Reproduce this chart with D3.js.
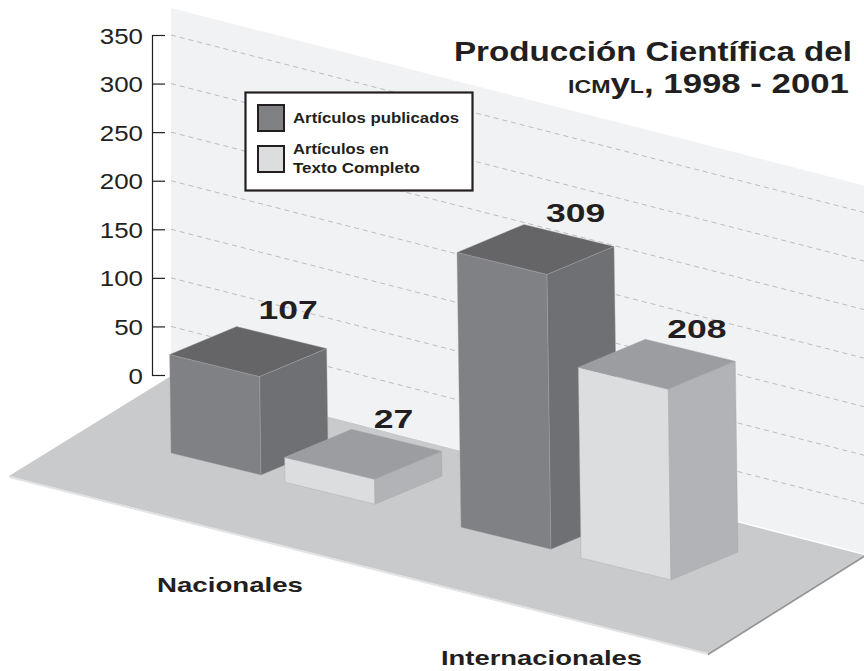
<!DOCTYPE html>
<html>
<head>
<meta charset="utf-8">
<title>Producción Científica del ICMyL</title>
<script src="https://cdn.jsdelivr.net/npm/d3@7"></script>
<style>
  body { margin: 0; background: #fff; }
  text { font-family: "Liberation Sans", Arial, sans-serif; fill: #231f20; }
</style>
</head>
<body>
<div id="vis"></div>
<script>
// Data
const categories = ["Nacionales", "Internacionales"];
const seriesNames = ["Artículos publicados", "Artículos en Texto Completo"];
const publicados = [107, 309];
const textoCompleto = [27, 208];
const yTicks = [0, 50, 100, 150, 200, 250, 300, 350];

// Dimensions
const width = 864;
const height = 671;
const slope = 0.256;          // receding slope of wall and floor
const wallLeft = 171;
const depth = { x: 67, y: -28 };   // front corner -> right corner
const face = { x: 90, y: 22 };     // left corner -> front corner

const svg = d3.select("#vis")
  .append("svg")
  .attr("width", width)
  .attr("height", height)
  .style("display", "block");

// Scales
const yScale = d3.scaleLinear().domain([0, 350]).range([375, 35]);

// Bar height is foreshortened a little towards the top
const barHeight = d3.scaleLinear().domain([0, 200, 350]).range([0, 184, 309]);
const lean = d3.scaleLinear().domain([0, 309]).range([0, 4]);

const x0 = d3.scaleBand().domain(categories).range([wallLeft, wallLeft + 580]);
const seriesStep = d3.scaleOrdinal().domain(categories).range([114, 120]);
const baseY = x => 453 + (x - wallLeft) * slope;

const polygon = pts => pts.map(p => p.join(",")).join(" ");

// Stretch text horizontally, the original face is an extended grotesque
function stretch(sel, k) {
  sel.each(function() {
    this.setAttribute("lengthAdjust", "spacingAndGlyphs");
    this.setAttribute("textLength", this.getComputedTextLength() * k);
  });
  return sel;
}

// Wall
svg.append("polygon")
  .attr("points", polygon([
    [wallLeft, 8],
    [width, 8 + (width - wallLeft) * slope],
    [width, 376 + (width - wallLeft) * slope],
    [wallLeft, 376]
  ]))
  .attr("fill", "#f1f2f4");

// Grid lines on the wall
svg.append("g")
  .selectAll("line")
  .data(yTicks.filter(d => d > 0))
  .enter()
  .append("line")
  .attr("x1", wallLeft)
  .attr("y1", d => yScale(d))
  .attr("x2", width)
  .attr("y2", d => yScale(d) + (width - wallLeft) * slope)
  .attr("stroke", "#bcbdc0")
  .attr("stroke-width", 1)
  .attr("stroke-dasharray", "5,4");

// Floor, with its thin edges
svg.append("polygon")
  .attr("points", polygon([[9, 476], [708, 653], [708, 655], [9, 478]]))
  .attr("fill", "#e2e3e5");
svg.append("polygon")
  .attr("points", polygon([[708, 653], [864, 555], [864, 557.5], [708, 655.5]]))
  .attr("fill", "#98999b");
svg.append("polygon")
  .attr("points", polygon([[9, 476], [wallLeft, 376], [864, 555], [708, 653]]))
  .attr("fill", "#c9cacc");

// Y-axis
const yAxis = svg.append("g")
  .attr("transform", "translate(152,0)")
  .call(d3.axisLeft(yScale).tickValues(yTicks).tickSize(-13).tickPadding(9));
yAxis.selectAll("line, path")
  .style("stroke", "#231f20")
  .style("stroke-width", 1.2);
yAxis.selectAll("text")
  .style("font-size", "22.5px")
  .style("fill", "#231f20")
  .attr("dy", "0.36em")
  .call(stretch, 1.15);

// Bars
const shades = [
  { front: "#808184", side: "#6f7074", top: "#656567" },
  { front: "#dcdddf", side: "#b2b3b6", top: "#9c9da0" }
];

const bars = [];
categories.forEach((c, i) => {
  [publicados[i], textoCompleto[i]].forEach((value, s) => {
    bars.push({ category: c, series: s, value: value });
  });
});

// Lift of each value label above the rear corner of its bar
const labelLift = [8, 1, 2, 1];

bars.forEach((d, i) => {
  const left = x0(d.category) + d.series * seriesStep(d.category);
  const bottom = baseY(left);
  const h = barHeight(d.value);
  const dx = lean(d.value);

  const bl = [left, bottom];
  const bf = [left + face.x, bottom + face.y];
  const br = [bf[0] + depth.x, bf[1] + depth.y];
  const tl = [left - dx, bottom - h];
  const tf = [tl[0] + face.x, tl[1] + face.y];
  const tr = [tf[0] + depth.x, tf[1] + depth.y];
  const tb = [tl[0] + depth.x, tl[1] + depth.y];

  const g = svg.append("g");
  const sides = [
    { pts: [tl, tf, bf, bl], fill: shades[d.series].front },
    { pts: [tf, tr, br, bf], fill: shades[d.series].side },
    { pts: [tl, tb, tr, tf], fill: shades[d.series].top }
  ];
  g.selectAll("polygon")
    .data(sides)
    .enter()
    .append("polygon")
    .attr("points", p => polygon(p.pts))
    .attr("fill", p => p.fill)
    .attr("stroke", "#a5a6a9")
    .attr("stroke-width", 0.4);

  svg.append("text")
    .attr("x", tb[0] + 22)
    .attr("y", tb[1] - labelLift[i])
    .style("font-size", "25px")
    .style("font-weight", "bold")
    .text(d.value)
    .call(stretch, 1.42);
});

// Category labels
const catX = d3.scaleOrdinal().domain(categories).range([157, 441]);
svg.selectAll("text.category")
  .data(categories)
  .enter()
  .append("text")
  .attr("class", "category")
  .attr("x", d => catX(d))
  .attr("y", d => 592 + (catX(d) - 157) * 0.257)
  .style("font-size", "21px")
  .style("font-weight", "bold")
  .text(d => d)
  .attr("textLength", (d, i) => [146, 201][i])
  .attr("lengthAdjust", "spacingAndGlyphs");

// Title
svg.append("text")
  .attr("x", 454)
  .attr("y", 61)
  .style("font-size", "27px")
  .style("font-weight", "bold")
  .text("Producción Científica del")
  .attr("textLength", 398)
  .attr("lengthAdjust", "spacingAndGlyphs");

const title2 = svg.append("text")
  .attr("x", 568)
  .attr("y", 93)
  .style("font-size", "27px")
  .style("font-weight", "bold");
title2.append("tspan").style("font-size", "18px").text("ICM");
title2.append("tspan").text("y");
title2.append("tspan").style("font-size", "18px").text("L");
title2.append("tspan").text(", 1998 - 2001");
title2.attr("textLength", 281).attr("lengthAdjust", "spacingAndGlyphs");

// Legend
const legend = svg.append("g");
legend.append("rect")
  .attr("x", 245.5)
  .attr("y", 92.5)
  .attr("width", 227)
  .attr("height", 98)
  .attr("fill", "#fff")
  .attr("stroke", "#231f20")
  .attr("stroke-width", 2.2);

legend.selectAll("rect.swatch")
  .data(seriesNames)
  .enter()
  .append("rect")
  .attr("class", "swatch")
  .attr("x", 258)
  .attr("y", (d, i) => 105 + i * 41)
  .attr("width", 26)
  .attr("height", 26)
  .attr("fill", (d, i) => shades[i].front)
  .attr("stroke", "#231f20")
  .attr("stroke-width", 2);

const legendLines = [
  { text: "Artículos publicados", y: 123, w: 166 },
  { text: "Artículos en", y: 154, w: 96 },
  { text: "Texto Completo", y: 173, w: 127 }
];
legend.selectAll("text")
  .data(legendLines)
  .enter()
  .append("text")
  .attr("x", 293)
  .attr("y", d => d.y)
  .style("font-size", "15.5px")
  .style("font-weight", "bold")
  .text(d => d.text)
  .attr("textLength", d => d.w)
  .attr("lengthAdjust", "spacingAndGlyphs");
</script>
</body>
</html>
